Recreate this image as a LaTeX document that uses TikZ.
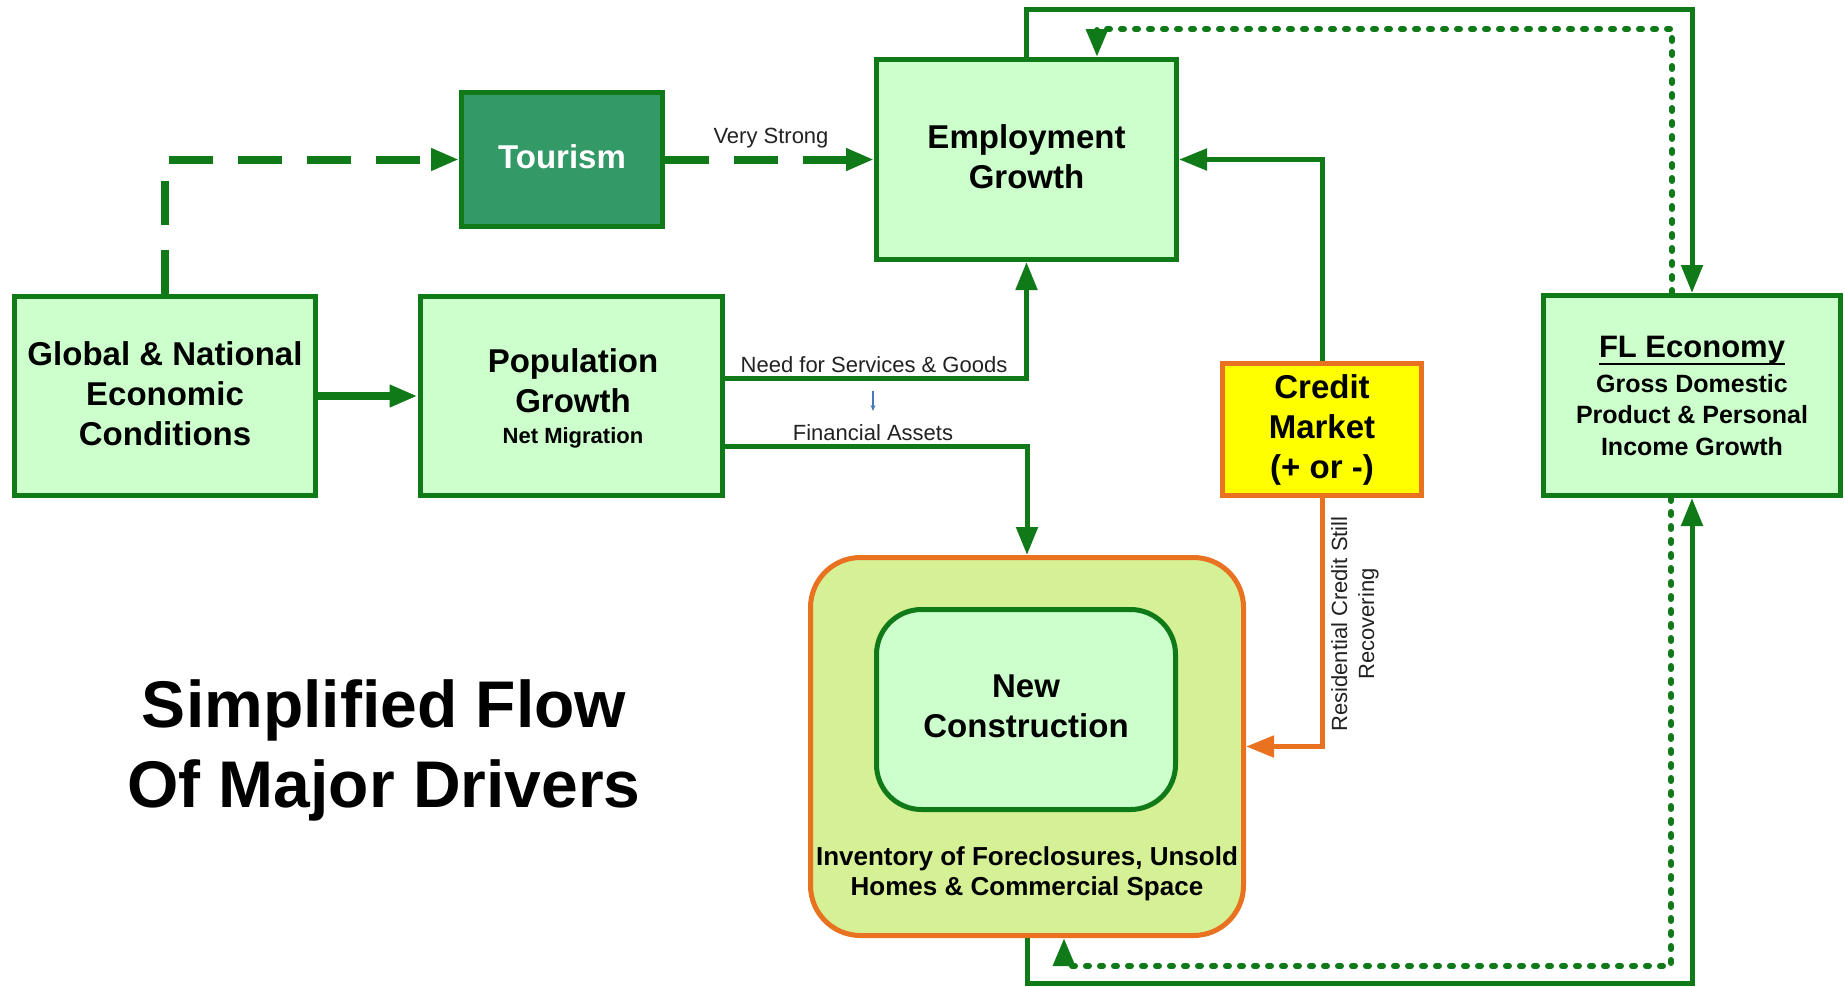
\documentclass[tikz,border=0pt]{standalone}
\usepackage{fontspec}
\setmainfont{Liberation Sans}
\usetikzlibrary{arrows.meta}
\definecolor{gfill}{RGB}{204,255,204}
\definecolor{gline}{RGB}{16,122,24}
\definecolor{tourfill}{RGB}{51,153,102}
\definecolor{orng}{RGB}{232,114,32}
\definecolor{ofill}{RGB}{214,240,150}
\definecolor{yfill}{RGB}{255,255,0}
\definecolor{blu}{RGB}{70,120,190}
\definecolor{lbl}{RGB}{34,34,34}
\newcommand{\myul}[1]{\setbox0\hbox{#1}\rlap{\rule[-8pt]{\wd0}{2.5pt}}\box0}
\begin{document}
\begin{tikzpicture}[x=1pt,y=-1pt,
  box/.style={draw=gline, line width=5pt, fill=gfill, inner sep=0pt},
  obox/.style={draw=orng, line width=5pt, inner sep=0pt},
  btxt/.style={font=\bfseries\fontsize{33}{40}\selectfont, align=center, inner sep=0pt},
  ltxt/.style={font=\fontsize{22}{27}\selectfont, inner sep=0pt, text=lbl},
  tipg/.style={-{Triangle[length=28pt,width=21pt]}},
  conn/.style={draw=gline, line width=5pt, tipg},
  dashc/.style={draw=gline, line width=8pt, dash pattern=on 44pt off 25pt, tipg},
  dotc/.style={draw=gline, line width=6pt, line cap=round, dash pattern=on 3pt off 11pt, tipg},
  oconn/.style={draw=orng, line width=5pt, -{Triangle[length=28pt,width=21pt]}}
]
\useasboundingbox (0,0) rectangle (1845,986);
\fill[white] (0,0) rectangle (1845,986);

% helper coordinates
\coordinate (y378) at (0,378);
\coordinate (y446) at (0,446);
\coordinate (ytop) at (0,9);
\coordinate (ybot) at (0,983);
\coordinate (x1672) at (1672,0);
\coordinate (x1097) at (1097,0);
\coordinate (x1671) at (1671,0);
\coordinate (x1064) at (1064,0);
\coordinate (dtopc) at (1097,29);
\coordinate (dbotc) at (1064,966);
\coordinate (bluetop) at (873,391);
\coordinate (bluebot) at (873,411);

% boxes
\node[box, minimum width=301pt, minimum height=199pt] (glob) at (165,396) {};
\node[box, minimum width=302pt, minimum height=199pt] (pop) at (571,396) {};
\node[box, fill=tourfill, minimum width=201pt, minimum height=134pt] (tour) at (562,159.5) {};
\node[box, minimum width=300pt, minimum height=200pt] (emp) at (1026.5,159.5) {};
\node[obox, fill=yfill, minimum width=199pt, minimum height=132pt] (cred) at (1322,429.5) {};
\node[box, minimum width=297pt, minimum height=200pt] (fl) at (1692,395.5) {};
\node[obox, fill=ofill, rounded corners=50pt, minimum width=433pt, minimum height=378pt] (outer) at (1027,746.5) {};
\node[box, rounded corners=45pt, minimum width=299pt, minimum height=200pt] (newc) at (1026,709.5) {};

% connectors
\draw[dashc] (glob.north) |- (tour.west);
\draw[dashc] (tour.east) -- (emp.west);
\draw[conn, line width=8pt] (glob.east) -- (pop.west);
\draw[conn] (pop.east |- y378) -| (emp.south);
\draw[conn] (pop.east |- y446) -| (outer.north);
\draw[conn] (cred.north) |- (emp.east);
\draw[oconn] (cred.south) |- (outer.east);
\draw[conn] (emp.north) -- (emp.north |- ytop) -| (fl.north);
\draw[dotc] (fl.north -| x1672) |- (dtopc) -- (emp.north -| x1097);
\draw[conn] (outer.south) -- (outer.south |- ybot) -| (fl.south);
\draw[dotc] (fl.south -| x1671) |- (dbotc) -- (outer.south -| x1064);
\draw[blu, line width=1.2pt, -{Stealth[length=6pt,width=5pt]}] (bluetop) -- (bluebot);

% texts
\node[btxt, text=white, anchor=base] (tourt) at (562,168) {Tourism};
\node[btxt, anchor=north] (empt) at (1026.5,124.4) {Employment\\Growth};
\node[btxt, anchor=north] (globt) at (165,341.4) {Global \& National\\Economic\\Conditions};
\node[btxt, anchor=north] (popt) at (573,348.4) {Population\\Growth};
\node[font=\bfseries\fontsize{22}{26}\selectfont, inner sep=0pt, anchor=base] (popsub) at (573,443) {Net Migration};
\node[btxt, anchor=north] (credt) at (1322,374.4) {Credit\\Market\\(+ or -)};
\node[font=\bfseries\fontsize{31}{36}\selectfont, inner sep=0pt, anchor=base] (flt) at (1692,357) {\myul{FL Economy}};
\node[font=\bfseries\fontsize{25}{31.5}\selectfont, align=center, inner sep=0pt, anchor=north] (flsub) at (1692,374.1) {Gross Domestic\\Product \& Personal\\Income Growth};
\node[btxt, anchor=north] (newt) at (1026,674.4) {New\\Construction};
\node[font=\bfseries\fontsize{26}{30}\selectfont, align=center, inner sep=0pt, anchor=north] (invt) at (1027,846.4) {Inventory of Foreclosures, Unsold\\Homes \& Commercial Space};
\node[font=\bfseries\fontsize{66}{80}\selectfont, align=center, inner sep=0pt, anchor=north] (ttl) at (384,679) {Simplified Flow\\Of Major Drivers};

\node[ltxt, anchor=base] (vs) at (771,143) {Very Strong};
\node[ltxt, anchor=base] (need) at (874,372) {Need for Services \& Goods};
\node[ltxt, anchor=base] (fin) at (873,440) {Financial Assets};
\node[ltxt, rotate=90, align=center] (res) at (1355,624) {Residential Credit Still\\Recovering};
\end{tikzpicture}
\end{document}
